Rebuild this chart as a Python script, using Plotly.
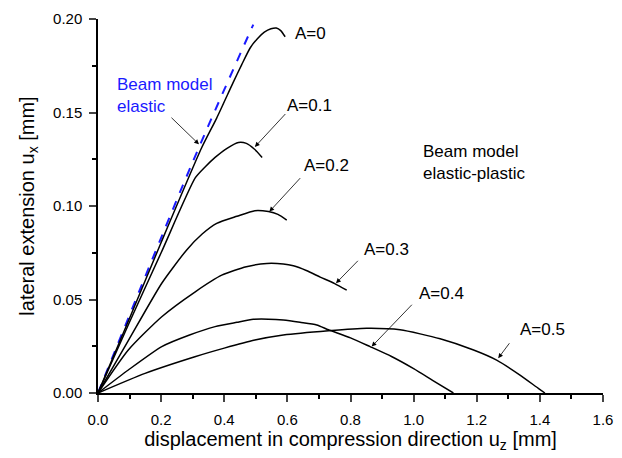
import plotly.graph_objects as go

# Data
beam_x = [0.0, 0.20, 0.323, 0.492]
beam_y = [0.0, 0.083, 0.1326, 0.197]

a0_x = [0.0, 0.10, 0.20, 0.328, 0.376, 0.428, 0.455, 0.482, 0.505, 0.527, 0.548, 0.565, 0.579, 0.593]
a0_y = [0.0, 0.040, 0.0805, 0.131, 0.147, 0.166, 0.1755, 0.1845, 0.1895, 0.193, 0.1948, 0.1952, 0.1938, 0.1905]

a01_x = [0.0, 0.10, 0.20, 0.308, 0.340, 0.371, 0.410, 0.445, 0.470, 0.495, 0.52]
a01_y = [0.0, 0.038, 0.075, 0.115, 0.121, 0.126, 0.131, 0.134, 0.1335, 0.1305, 0.126]

a02_x = [0.0, 0.096, 0.202, 0.281, 0.330, 0.376, 0.440, 0.497, 0.54, 0.570, 0.598]
a02_y = [0.0, 0.028, 0.0587, 0.0765, 0.0850, 0.0907, 0.0945, 0.0975, 0.097, 0.0955, 0.0925]

a03_x = [0.0, 0.096, 0.202, 0.307, 0.392, 0.470, 0.535, 0.587, 0.619, 0.660, 0.704, 0.750, 0.788]
a03_y = [0.0, 0.023, 0.0408, 0.054, 0.063, 0.0675, 0.0693, 0.069, 0.068, 0.0655, 0.062, 0.0585, 0.055]

a04_x = [0.0, 0.096, 0.202, 0.290, 0.371, 0.440, 0.492, 0.540, 0.587, 0.640, 0.693, 0.730, 0.800, 0.862, 0.930, 1.000, 1.060, 1.126]
a04_y = [0.0, 0.0123, 0.0248, 0.031, 0.0355, 0.0378, 0.0394, 0.0395, 0.039, 0.0378, 0.0364, 0.0338, 0.0295, 0.0248, 0.0195, 0.013, 0.0068, 0.0]

a05_x = [0.0, 0.149, 0.307, 0.400, 0.497, 0.587, 0.730, 0.851, 0.957, 1.084, 1.190, 1.263, 1.337, 1.395, 1.416]
a05_y = [0.0, 0.0105, 0.0194, 0.024, 0.0283, 0.031, 0.0333, 0.0346, 0.0338, 0.029, 0.023, 0.0176, 0.0096, 0.0025, 0.0]

labels = ["A=0", "A=0.1", "A=0.2", "A=0.3", "A=0.4", "A=0.5"]
label_x = [0.618, 0.5925, 0.646, 0.836, 1.011, 1.331]
label_y = [0.1925, 0.154, 0.1219, 0.077, 0.053, 0.0337]

arrow_tail_x = [0.598, 0.645, 0.828, 0.999, 1.307]
arrow_tail_y = [0.150, 0.1157, 0.0715, 0.048, 0.0274]
arrow_head_x = [0.497, 0.543, 0.754, 0.867, 1.268]
arrow_head_y = [0.1316, 0.097, 0.0587, 0.0248, 0.0186]

fam = "Liberation Sans, Arial, sans-serif"
fig = go.Figure()

fig.add_trace(go.Scatter(x=beam_x, y=beam_y, mode="lines",
                         line=dict(color="#1a1aff", width=2, dash="dash", shape="spline"), showlegend=False))
for xs, ys in [(a0_x, a0_y), (a01_x, a01_y), (a02_x, a02_y), (a03_x, a03_y), (a04_x, a04_y), (a05_x, a05_y)]:
    fig.add_trace(go.Scatter(x=xs, y=ys, mode="lines",
                             line=dict(color="black", width=1.5, shape="spline", smoothing=0.6),
                             showlegend=False))

font = dict(family=fam, size=17, color="black")

annotations = []
for t, x, y in zip(labels, label_x, label_y):
    annotations.append(dict(x=x, y=y, text=t, showarrow=False, xanchor="left", yanchor="middle", font=font))

for tx, ty, hx, hy in zip(arrow_tail_x, arrow_tail_y, arrow_head_x, arrow_head_y):
    annotations.append(dict(x=hx, y=hy, ax=tx, ay=ty, axref="x", ayref="y", xref="x", yref="y",
                            text="", showarrow=True, arrowhead=2, arrowsize=1.2, arrowwidth=0.8,
                            arrowcolor="black"))

annotations.append(dict(x=0.054, y=0.159, text="Beam model<br>elastic", showarrow=False, xanchor="left",
                        yanchor="middle", align="left", font=dict(family=fam, size=17, color="#1a1aff")))
annotations.append(dict(x=0.320, y=0.133, ax=0.228, ay=0.148, axref="x", ayref="y", xref="x", yref="y",
                        text="", showarrow=True, arrowhead=2, arrowsize=1.2, arrowwidth=0.8, arrowcolor="black"))
annotations.append(dict(x=1.023, y=0.1233, text="Beam model<br>elastic-plastic", showarrow=False, xanchor="left",
                        yanchor="middle", align="left", font=font))

fig.update_layout(
    width=622, height=458,
    margin=dict(l=98, r=19, t=19, b=65),
    plot_bgcolor="white", paper_bgcolor="white",
    font=dict(family=fam, size=15, color="black"),
    annotations=annotations,
    xaxis=dict(range=[0, 1.6], dtick=0.2, tickformat=".1f", showgrid=False, zeroline=False,
               showline=True, linecolor="black", linewidth=1.5, ticks="outside", ticklen=7, tickwidth=1.5,
               ticklabelstandoff=5, automargin=False,
               minor=dict(dtick=0.1, ticks="outside", ticklen=4, tickwidth=1.5, tickcolor="black"),
               title=dict(text="displacement in compression direction u<sub>z</sub> [mm]",
                          font=dict(family=fam, size=20), standoff=5),
               tickfont=dict(size=15)),
    yaxis=dict(range=[0, 0.2], dtick=0.05, tickformat=".2f", showgrid=False, zeroline=False,
               showline=True, linecolor="black", linewidth=1.5, ticks="outside", ticklen=7, tickwidth=1.5,
               ticklabelstandoff=4, automargin=False,
               minor=dict(dtick=0.025, ticks="outside", ticklen=4, tickwidth=1.5, tickcolor="black"),
               title=dict(text="lateral extension u<sub>x</sub> [mm]",
                          font=dict(family=fam, size=20), standoff=13),
               tickfont=dict(size=15)),
)

fig.write_html("out.html")
